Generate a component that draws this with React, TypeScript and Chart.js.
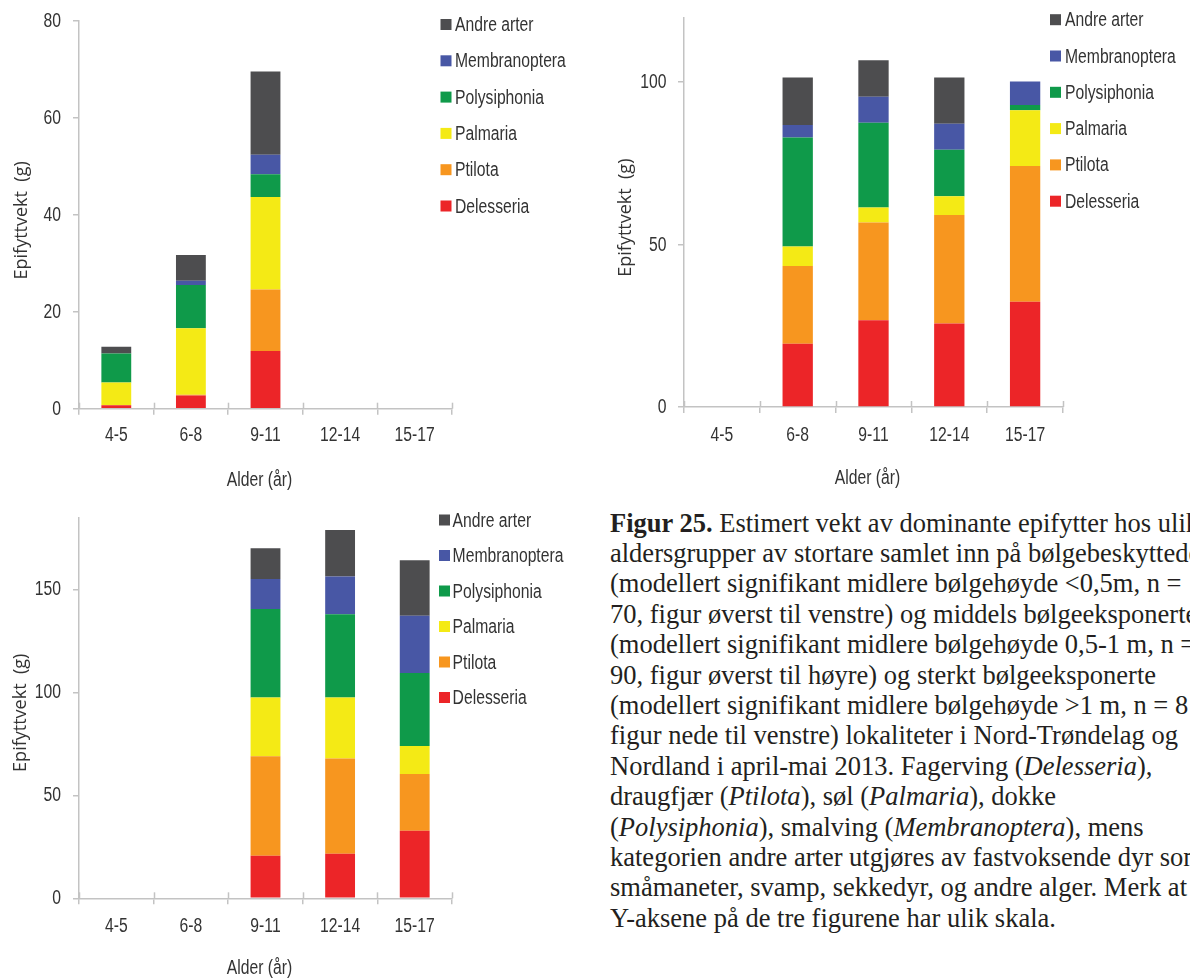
import React, { useEffect, useRef } from "react";
import { Chart, registerables } from "chart.js";

Chart.register(...registerables);

// Age groups (år) on the x-axis
const ageGroups = ["4-5", "6-8", "9-11", "12-14", "15-17"];

// Stack order, bottom to top
const speciesNames = ["Delesseria", "Ptilota", "Palmaria", "Polysiphonia", "Membranoptera", "Andre arter"];
const speciesColors = ["#ec2528", "#f7961f", "#f4ea15", "#0f9a4a", "#4857a5", "#4d4d4f"];

// Bølgebeskyttede lokaliteter (< 0,5 m), g epifytt per tare
const shelteredDelesseria = [0.7, 2.7, 11.9, 0, 0];
const shelteredPtilota = [0, 0.2, 12.7, 0, 0];
const shelteredPalmaria = [4.7, 13.7, 19.1, 0, 0];
const shelteredPolysiphonia = [6.0, 8.9, 4.7, 0, 0];
const shelteredMembranoptera = [0, 0.9, 4.0, 0, 0];
const shelteredAndre = [1.4, 5.3, 17.2, 0, 0];
const shelteredTicks = [0, 20, 40, 60, 80];
const shelteredMax = 80;

// Middels bølgeeksponerte lokaliteter (0,5-1 m)
const moderateDelesseria = [0, 19.5, 26.7, 25.7, 32.4];
const moderatePtilota = [0, 23.9, 30.1, 33.4, 41.8];
const moderatePalmaria = [0, 6.0, 4.6, 5.8, 17.2];
const moderatePolysiphonia = [0, 33.6, 26.1, 14.3, 1.6];
const moderateMembranoptera = [0, 3.8, 8.0, 8.0, 7.2];
const moderateAndre = [0, 14.7, 11.3, 14.3, 0];
const moderateTicks = [0, 50, 100];
const moderateMax = 120;

// Sterkt bølgeeksponerte lokaliteter (> 1 m)
const exposedDelesseria = [0, 0, 20.7, 21.6, 32.8];
const exposedPtilota = [0, 0, 48.3, 46.3, 27.6];
const exposedPalmaria = [0, 0, 28.5, 29.6, 13.5];
const exposedPolysiphonia = [0, 0, 43.0, 40.4, 35.5];
const exposedMembranoptera = [0, 0, 14.5, 18.3, 27.8];
const exposedAndre = [0, 0, 15.0, 22.6, 27.0];
const exposedTicks = [0, 50, 100, 150];
const exposedMax = 185;

const Y_TITLE = "Epifyttvekt  (g)";
const X_TITLE = "Alder (år)";

const LABEL_FONT = "20px 'Liberation Sans', Arial, sans-serif";
const NARROW_SCALE = 0.785;
const TITLE_FONT = "18px 'Open Sans', 'Liberation Sans', sans-serif";
const AXIS = "#c3c3c3";
const INK = "#333333";

type Layout = {
  width: number;
  height: number;
  area: { left: number; top: number; right: number; bottom: number };
  text: {
    yLabelRight: number;
    xLabelY: number;
    xTitleY: number;
    xTitleShift: number;
    yTitleX: number;
    yTitleShift: number;
  };
  key: { boxLeft: number; textLeft: number; top: number; step: number };
};

// Condensed-looking label text: regular sans squeezed horizontally
function narrowText(ctx: CanvasRenderingContext2D, text: string, x: number, y: number, align: CanvasTextAlign) {
  ctx.save();
  ctx.translate(x, y);
  ctx.scale(NARROW_SCALE, 1);
  ctx.textAlign = align;
  ctx.fillText(text, 0, 0);
  ctx.restore();
}

// Axis labels, titles, species key and the tick stubs crossing the x-axis
const annotatePlugin = {
  id: "annotate",
  afterDraw(chart: any, _args: any, opts: any) {
    const { ctx, chartArea } = chart;
    const xs = chart.scales.x;
    const ys = chart.scales.y;
    const t = opts.text;
    ctx.save();

    ctx.strokeStyle = AXIS;
    ctx.lineWidth = 1.5;
    for (let i = 0; i <= chart.data.labels.length; i++) {
      const px = Math.round(xs.getPixelForValue(i - 0.5)) + 0.5;
      ctx.beginPath();
      ctx.moveTo(px, xs.top - 6);
      ctx.lineTo(px, xs.top);
      ctx.stroke();
    }

    ctx.fillStyle = INK;
    ctx.font = LABEL_FONT;
    ctx.textBaseline = "middle";
    ys.ticks.forEach((tk: any) => {
      narrowText(ctx, String(tk.value), t.yLabelRight, ys.getPixelForValue(tk.value) + 0.5, "right");
    });
    chart.data.labels.forEach((lab: string, i: number) => {
      narrowText(ctx, lab, xs.getPixelForValue(i), t.xLabelY, "center");
    });
    narrowText(ctx, X_TITLE, (chartArea.left + chartArea.right) / 2 + t.xTitleShift, t.xTitleY, "center");

    ctx.save();
    ctx.translate(t.yTitleX, (chartArea.top + chartArea.bottom) / 2 + t.yTitleShift);
    ctx.rotate(-Math.PI / 2);
    ctx.font = TITLE_FONT;
    ctx.textAlign = "center";
    ctx.textBaseline = "alphabetic";
    ctx.fillText(Y_TITLE, 0, 0);
    ctx.restore();

    const ds = chart.data.datasets;
    const k = opts.key;
    for (let j = 0; j < ds.length; j++) {
      const d = ds[ds.length - 1 - j];
      const cy = k.top + j * k.step;
      ctx.fillStyle = d.backgroundColor;
      ctx.fillRect(k.boxLeft, cy - 5.5, 11, 11);
      ctx.fillStyle = INK;
      ctx.textBaseline = "middle";
      narrowText(ctx, d.label, k.textLeft, cy + 1, "left");
    }
    ctx.restore();
  },
};

function buildChart(canvas: HTMLCanvasElement, series: number[][], ticks: number[], yMax: number, lay: Layout) {
  const datasets = series.map((values, i) => ({
    label: speciesNames[i],
    data: values,
    backgroundColor: speciesColors[i],
    borderWidth: 0,
    barPercentage: 0.4,
    categoryPercentage: 1.0,
  }));
  return new Chart(canvas, {
    type: "bar",
    data: { labels: ageGroups, datasets },
    plugins: [annotatePlugin],
    options: {
      animation: false,
      responsive: false,
      devicePixelRatio: 1,
      layout: {
        padding: {
          left: 0,
          top: lay.area.top,
          right: lay.width - lay.area.right,
          bottom: 0,
        },
      },
      plugins: {
        legend: { display: false },
        tooltip: { enabled: false },
        annotate: { text: lay.text, key: lay.key },
      } as any,
      scales: {
        x: {
          stacked: true,
          offset: true,
          grid: {
            display: true,
            drawOnChartArea: false,
            drawTicks: true,
            tickLength: 6,
            color: AXIS,
            lineWidth: 1.5,
            offset: true,
          },
          border: { display: true, color: AXIS, width: 1.5 },
          ticks: { display: false },
          title: { display: false },
          afterFit: (s: any) => {
            s.height = lay.height - lay.area.bottom;
          },
        },
        y: {
          stacked: true,
          min: 0,
          max: yMax,
          grid: {
            display: true,
            drawOnChartArea: false,
            drawTicks: true,
            tickLength: 6,
            color: AXIS,
            lineWidth: 1.5,
          },
          border: { display: true, color: AXIS, width: 1.5 },
          ticks: { display: false },
          afterBuildTicks: (s: any) => {
            s.ticks = ticks.map((v) => ({ value: v }));
          },
          title: { display: false },
          afterFit: (s: any) => {
            s.width = lay.area.left;
          },
        },
      },
    } as any,
  });
}

const shelteredLayout: Layout = {
  width: 590,
  height: 500,
  area: { left: 79, top: 21, right: 452, bottom: 408.7 },
  text: { yLabelRight: 61, xLabelY: 435, xTitleY: 480, xTitleShift: -6, yTitleX: 26.5, yTitleShift: 5.5 },
  key: { boxLeft: 440.5, textLeft: 455, top: 24.5, step: 36.3 },
};

const moderateLayout: Layout = {
  width: 600,
  height: 500,
  area: { left: 94, top: 17.3, right: 473, bottom: 407 },
  text: { yLabelRight: 76.5, xLabelY: 435, xTitleY: 478.5, xTitleShift: -6, yTitleX: 40.5, yTitleShift: 5.5 },
  key: { boxLeft: 460, textLeft: 475, top: 19.7, step: 36.3 },
};

const exposedLayout: Layout = {
  width: 590,
  height: 479,
  area: { left: 79, top: 17.3, right: 452, bottom: 398.3 },
  text: { yLabelRight: 61, xLabelY: 426.7, xTitleY: 468.3, xTitleShift: -6, yTitleX: 26, yTitleShift: 5 },
  key: { boxLeft: 439, textLeft: 452.6, top: 20, step: 35.5 },
};

export default function App() {
  const ref1 = useRef<HTMLCanvasElement>(null);
  const ref2 = useRef<HTMLCanvasElement>(null);
  const ref3 = useRef<HTMLCanvasElement>(null);

  useEffect(() => {
    const charts = [
      buildChart(
        ref1.current!,
        [shelteredDelesseria, shelteredPtilota, shelteredPalmaria, shelteredPolysiphonia, shelteredMembranoptera, shelteredAndre],
        shelteredTicks,
        shelteredMax,
        shelteredLayout
      ),
      buildChart(
        ref2.current!,
        [moderateDelesseria, moderatePtilota, moderatePalmaria, moderatePolysiphonia, moderateMembranoptera, moderateAndre],
        moderateTicks,
        moderateMax,
        moderateLayout
      ),
      buildChart(
        ref3.current!,
        [exposedDelesseria, exposedPtilota, exposedPalmaria, exposedPolysiphonia, exposedMembranoptera, exposedAndre],
        exposedTicks,
        exposedMax,
        exposedLayout
      ),
    ];
    return () => charts.forEach((c) => c.destroy());
  }, []);

  const caption: React.CSSProperties = {
    position: "absolute",
    left: 610,
    top: 507.5,
    fontFamily: "'Liberation Serif', 'Times New Roman', serif",
    fontSize: 26.5,
    lineHeight: "30.4px",
    color: "#231f20",
    whiteSpace: "nowrap",
  };

  return (
    <div style={{ position: "absolute", left: 0, top: 0, width: 1190, height: 979, overflow: "hidden", background: "#fff" }}>
      <canvas ref={ref1} width={590} height={500} style={{ position: "absolute", left: 0, top: 0 }} />
      <canvas ref={ref2} width={600} height={500} style={{ position: "absolute", left: 590, top: 0 }} />
      <canvas ref={ref3} width={590} height={479} style={{ position: "absolute", left: 0, top: 500 }} />
      <div style={caption}>
        <div>
          <b>Figur 25.</b> Estimert vekt av dominante epifytter hos ulike
        </div>
        <div>aldersgrupper av stortare samlet inn på bølgebeskyttede</div>
        <div>(modellert signifikant midlere bølgehøyde &lt;0,5m, n =</div>
        <div>70, figur øverst til venstre) og middels bølgeeksponerte</div>
        <div>(modellert signifikant midlere bølgehøyde 0,5-1 m, n =</div>
        <div>90, figur øverst til høyre) og sterkt bølgeeksponerte</div>
        <div>(modellert signifikant midlere bølgehøyde &gt;1 m, n = 8</div>
        <div>figur nede til venstre) lokaliteter i Nord-Trøndelag og</div>
        <div>
          Nordland i april-mai 2013. Fagerving (<i>Delesseria</i>),
        </div>
        <div>
          draugfjær (<i>Ptilota</i>), søl (<i>Palmaria</i>), dokke
        </div>
        <div>
          (<i>Polysiphonia</i>), smalving (<i>Membranoptera</i>), mens
        </div>
        <div>kategorien andre arter utgjøres av fastvoksende dyr som</div>
        <div>småmaneter, svamp, sekkedyr, og andre alger. Merk at</div>
        <div>Y-aksene på de tre figurene har ulik skala.</div>
      </div>
    </div>
  );
}
